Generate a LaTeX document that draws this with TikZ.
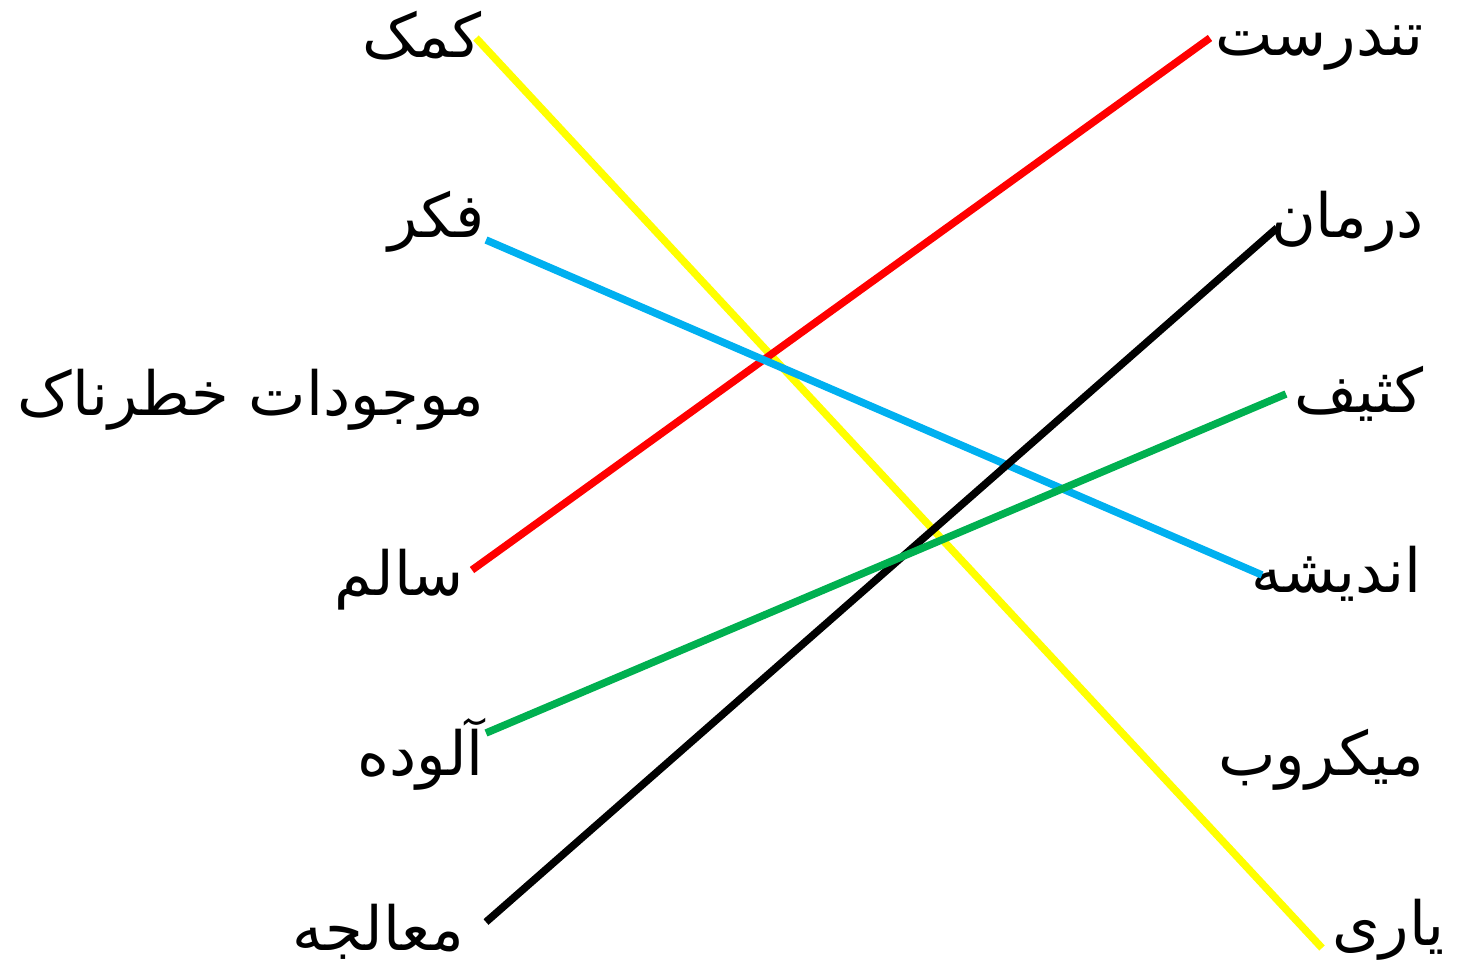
\documentclass[tikz,border=0pt]{standalone}
\usepackage{fontspec}
\TeXXeTstate=1
\newfontfamily\arabicfont[Script=Arabic]{DejaVu Sans}
\tikzset{
  word/.style={anchor=base east, inner sep=0pt, xshift=4pt, font=\arabicfont\fontsize{61}{66}\selectfont},
  link/.style={line width=7.5pt},
}
\definecolor{lineyellow}{HTML}{FFFF00}
\definecolor{linered}{HTML}{FF0000}
\definecolor{lineblue}{HTML}{00B0F0}
\definecolor{linegreen}{HTML}{00B050}

\begin{document}
\begin{tikzpicture}[x=1pt,y=-1pt]
    \useasboundingbox (0,0) rectangle (1473,980);
    % left column
    \node[word] (kamak) at (478,57) {\beginR کمک\endR};
    \node[word] (fekr) at (481,237) {\beginR فکر\endR};
    \node[word] (mojudat) at (480,415) {\beginR موجودات خطرناک\endR};
    \node[word] (salem) at (460,595) {\beginR سالم\endR};
    \node[word] (aludeh) at (480,775) {\beginR آلوده\endR};
    \node[word] (moalejeh) at (460,950) {\beginR معالجه\endR};
    % right column
    \node[word] (tandorost) at (1420,55) {\beginR تندرست\endR};
    \node[word] (darman) at (1420,237) {\beginR درمان\endR};
    \node[word] (kasif) at (1420,412) {\beginR کثیف\endR};
    \node[word] (andisheh) at (1418,592) {\beginR اندیشه\endR};
    \node[word] (mikrob) at (1420,775) {\beginR میکروب\endR};
    \node[word] (yari) at (1441,945) {\beginR یاری\endR};
    % line ends
    \coordinate (kamakR) at (476,38);
    \coordinate (fekrR) at (486,240);
    \coordinate (salemR) at (472,570);
    \coordinate (aludehR) at (486,733);
    \coordinate (moalejehR) at (486,922);
    \coordinate (tandorostL) at (1210,38);
    \coordinate (darmanL) at (1277,228);
    \coordinate (kasifL) at (1286,394);
    \coordinate (andishehL) at (1262,575);
    \coordinate (yariL) at (1322,948);
    % matches
    \draw[link, lineyellow] (kamakR) -- (yariL);
    \draw[link, linered] (salemR) -- (tandorostL);
    \draw[link, lineblue] (fekrR) -- (andishehL);
    \draw[link, black] (moalejehR) -- (darmanL);
    \draw[link, linegreen] (aludehR) -- (kasifL);
\end{tikzpicture}
\end{document}
